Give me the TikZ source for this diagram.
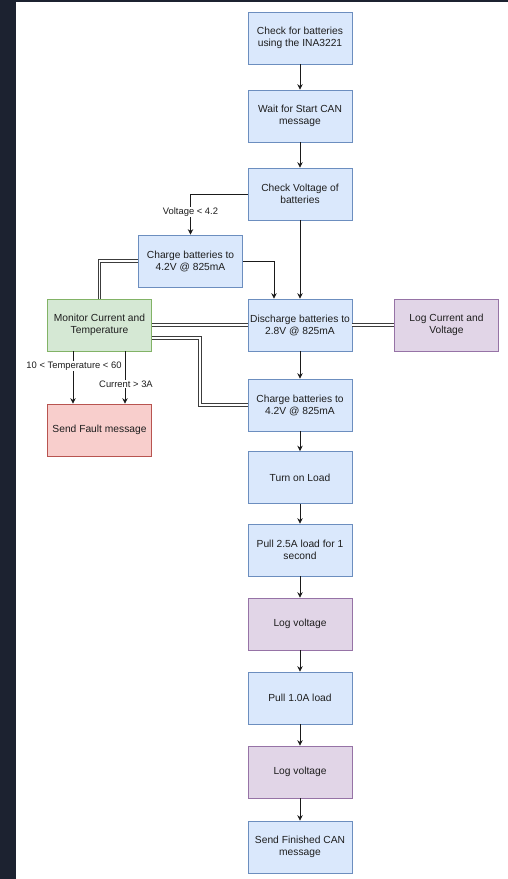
\documentclass[tikz,border=0pt]{standalone}
\usepackage{fontspec}
\setmainfont{Liberation Sans}
\usetikzlibrary{arrows.meta}
\definecolor{bluef}{HTML}{DAE8FC}\definecolor{blues}{HTML}{6C8EBF}
\definecolor{greenf}{HTML}{D5E8D4}\definecolor{greens}{HTML}{82B366}
\definecolor{redf}{HTML}{F8CECC}\definecolor{reds}{HTML}{B85450}
\definecolor{purpf}{HTML}{E1D5E7}\definecolor{purps}{HTML}{9673A6}
\definecolor{darkbg}{HTML}{1C2230}
\definecolor{txt}{HTML}{1E1E1E}
\definecolor{edge}{HTML}{1A1A1A}
\tikzset{
  box/.style={draw, line width=0.7pt, minimum width=104pt, minimum height=52pt, inner sep=0pt,
    align=center, text=txt, font=\fontsize{10.25pt}{12pt}\selectfont},
  bluebox/.style={box, fill=bluef, draw=blues},
  greenbox/.style={box, fill=greenf, draw=greens},
  redbox/.style={box, fill=redf, draw=reds},
  purpbox/.style={box, fill=purpf, draw=purps},
  arr/.style={draw=edge, line width=0.8pt, -{Stealth[length=5.5pt,width=5.5pt]}},
  link/.style={draw=edge!85, line width=0.75pt, double=white, double distance=1.9pt},
  elabel/.style={fill=white, inner sep=1pt, text=txt, font=\fontsize{9.4pt}{11pt}\selectfont}
}
\begin{document}
\begin{tikzpicture}[x=1pt,y=-1pt]
\useasboundingbox (0,0) rectangle (508,879);
\fill[white] (0,0) rectangle (508,879);
\fill[darkbg] (0,0) rectangle (16,879);
\fill[darkbg] (0,0) rectangle (508,2);

\node[bluebox] (b1) at (300,38) {Check for batteries\\using the INA3221};
\node[bluebox] (b2) at (300,116) {Wait for Start CAN\\message};
\node[bluebox] (chk) at (300,194) {Check Voltage of\\batteries};
\node[bluebox] (lch) at (190.5,261) {Charge batteries to\\4.2V @ 825mA};
\node[greenbox] (mon) at (99.5,325) {Monitor Current and\\Temperature};
\node[bluebox] (dis) at (300,325) {Discharge batteries to\\2.8V @ 825mA};
\node[purpbox] (logc) at (446.5,325) {Log Current and\\Voltage};
\node[redbox] (flt) at (99.5,430) {Send Fault message};
\node[bluebox] (rch) at (300,405) {Charge batteries to\\4.2V @ 825mA};
\node[bluebox] (ton) at (300,477.5) {Turn on Load};
\node[bluebox] (p25) at (300,550) {Pull 2.5A load for 1\\second};
\node[purpbox] (lv1) at (300,624) {Log voltage};
\node[bluebox] (p10) at (300,698) {Pull 1.0A load};
\node[purpbox] (lv2) at (300,772) {Log voltage};
\node[bluebox] (fin) at (300,847) {Send Finished CAN\\message};

\coordinate (d1) at (274,0);
\coordinate (m1) at (0,338);
\coordinate (m2) at (200,0);
\coordinate (t1) at (73,0);
\coordinate (t2) at (125,0);

\draw[arr] (b1) -- (b2);
\draw[arr] (b2) -- (chk);
\draw[arr] (chk.west) -| node[pos=0.72, elabel] {Voltage < 4.2} (lch.north);
\draw[arr] (chk) -- (dis);
\draw[arr] (lch.east) -| (dis.north -| d1);
\draw[arr] (dis) -- (rch);
\draw[arr] (rch) -- (ton);
\draw[arr] (ton) -- (p25);
\draw[arr] (p25) -- (lv1);
\draw[arr] (lv1) -- (p10);
\draw[arr] (p10) -- (lv2);
\draw[arr] (lv2) -- (fin);

\draw[link] (lch.west) -| (mon.north);
\draw[link] (mon.east) -- (dis.west);
\draw[link] (mon.east |- m1) -| (m2 |- rch.west) -- (rch.west);
\draw[link] (dis.east) -- (logc.west);

\draw[arr] (mon.south -| t1) -- (flt.north -| t1);
\draw[arr] (mon.south -| t2) -- (flt.north -| t2);
\node[elabel] (lt) at (74,366) {10 < Temperature < 60};
\node[elabel] (lc) at (126,384) {Current > 3A};
\end{tikzpicture}
\end{document}
